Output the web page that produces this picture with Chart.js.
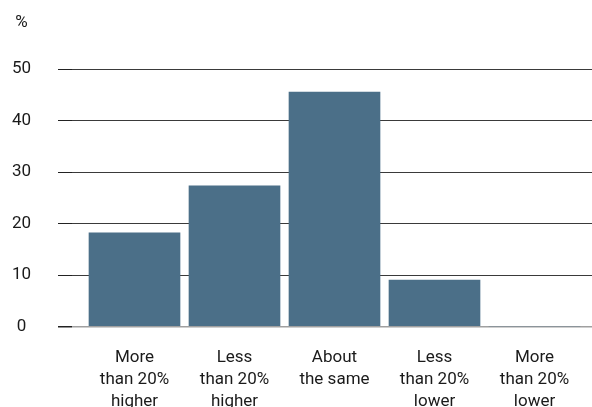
<!DOCTYPE html>
<html>
<head>
<meta charset="utf-8">
<script src="https://cdn.jsdelivr.net/npm/chart.js@4/dist/chart.umd.min.js"></script>
<style>
  html, body { margin: 0; padding: 0; background: #fff; }
  #wrap { width: 592px; height: 407px; }
</style>
</head>
<body>
<div id="wrap"><canvas id="priceChart"></canvas></div>
<script>

// DATA
var categories = [
    ['More', 'than 20%', 'higher'],
    ['Less', 'than 20%', 'higher'],
    ['About', 'the same'],
    ['Less', 'than 20%', 'lower'],
    ['More', 'than 20%', 'lower'],
];
var shares = [18.2, 27.3, 45.5, 9.0, 0];
var yTicks = [0, 10, 20, 30, 40, 50];
var unitLabel = '%';


Chart.defaults.font.family = "Roboto, 'DejaVu Sans', sans-serif";
Chart.defaults.font.size = 17;
Chart.defaults.color = '#1a1a1a';


// draws the "%" unit above the y axis labels
var unitPlugin = {
    id: 'unitLabel',
    afterDraw: function(chart) {
        var ctx = chart.ctx;
        var y = chart.scales.y;
        ctx.save();
        ctx.font = "17px Roboto, 'DejaVu Sans', sans-serif";
        ctx.fillStyle = '#1a1a1a';
        ctx.textAlign = 'center';
        ctx.textBaseline = 'middle';
        ctx.fillText(unitLabel, 21.5, y.getPixelForValue(50) - 46);
        ctx.restore();
    }
};


var ctx = document.getElementById('priceChart').getContext('2d');

var price_chart = new Chart(ctx, {
    type: 'bar',

    data: {
        datasets: [{
            data: shares.map(function(v, i) { return {x: i, y: v}; }),
            backgroundColor: '#4b6f88',
            borderWidth: 0,
            barThickness: 91,
        }],
    },

    options: {
        responsive: true,
        maintainAspectRatio: false,
        animation: false,
        layout: {
            padding: {top: 69, right: 0, bottom: 0, left: 0},
        },

        scales: {
            x: {
                type: 'linear',
                offset: false,
                min: -0.625,
                max: 4.575,
                grid: {display: false, offset: false},
                border: {display: false},
                afterBuildTicks: function(scale) {
                    scale.ticks = categories.map(function(c, i) { return {value: i}; });
                },
                afterFit: function(scale) { scale.height = 80.5; },
                ticks: {
                    autoSkip: false,
                    maxRotation: 0,
                    padding: 12,
                    font: {size: 17, lineHeight: 1.3},
                    callback: function(value) { return categories[value]; },
                },
            },
            y: {
                min: 0,
                max: 50,
                afterBuildTicks: function(scale) {
                    scale.ticks = yTicks.map(function(v) { return {value: v}; });
                },
                afterFit: function(scale) { scale.width = 72; },
                border: {display: false},
                grid: {
                    tickLength: 14,
                    tickColor: '#222',
                    color: function(c) { return c.tick.value === 0 ? '#a0a0a0' : '#3a3a3a'; },
                    lineWidth: function(c) { return c.tick.value === 0 ? 1.5 : 1; },
                },
                ticks: {
                    crossAlign: 'center',
                    padding: 27,
                    font: {size: 17},
                },
            },
        },

        plugins: {
            legend: {display: false},
            tooltip: {enabled: false},
            title: {display: false},
        },
    },

    plugins: [unitPlugin],
});

</script>
</body>
</html>
